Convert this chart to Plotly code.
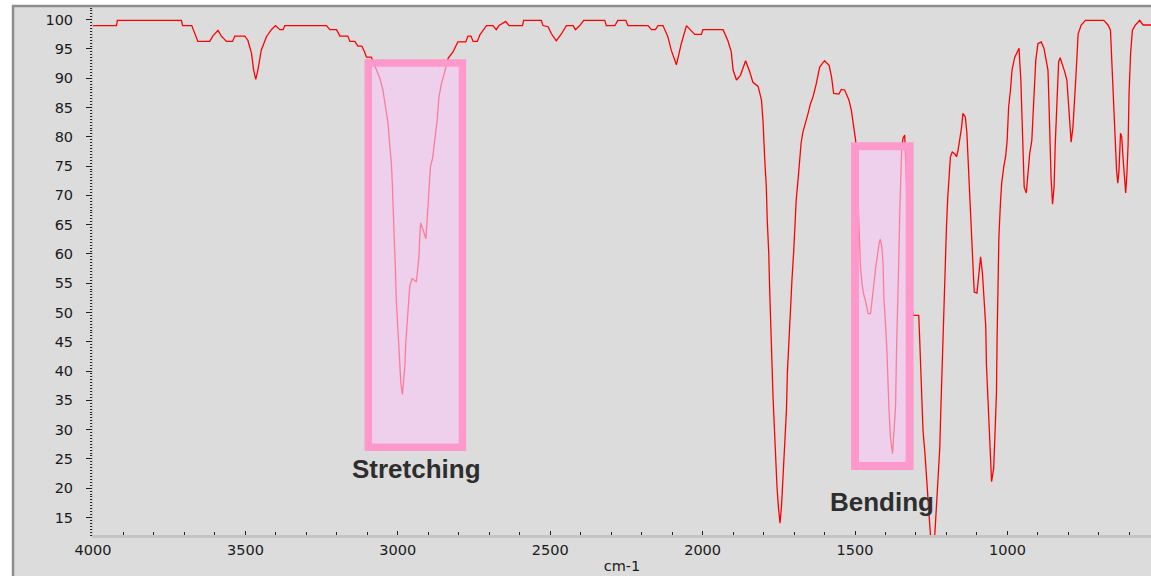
import plotly.graph_objects as go

# IR spectrum (wavenumber cm-1, % transmittance)
wavenumber = [
    4000, 3923, 3920, 3710, 3706, 3676, 3656, 3617, 3607, 3590, 3579, 3562, 3542, 3535, 3502,
    3492, 3480, 3473, 3466, 3459, 3448, 3431, 3415, 3401, 3387, 3376, 3371, 3234, 3223, 3201,
    3190, 3164, 3157, 3141, 3131, 3118, 3109, 3103, 3087, 3076, 3070, 3059, 3049, 3041, 3032,
    3027, 3021, 3018, 3016, 3012, 3008, 3005, 2999, 2994, 2990, 2985, 2981, 2977, 2974, 2969,
    2964, 2961, 2953, 2939, 2934, 2930, 2928, 2925, 2917, 2908, 2904, 2901, 2898, 2893, 2886,
    2879, 2871, 2865, 2857, 2846, 2841, 2835, 2819, 2803, 2777, 2770, 2760, 2753, 2739, 2731,
    2709, 2688, 2677, 2668, 2646, 2635, 2591, 2587, 2529, 2524, 2507, 2496, 2480, 2463, 2447,
    2425, 2417, 2403, 2390, 2321, 2316, 2288, 2278, 2252, 2245, 2179, 2168, 2155, 2146, 2130,
    2114, 2103, 2086, 2070, 2053, 2037, 2026, 2004, 1999, 1933, 1917, 1906, 1900, 1889, 1876,
    1859, 1846, 1835, 1818, 1807, 1802, 1796, 1791, 1788, 1783, 1780, 1777, 1773, 1769, 1764,
    1760, 1756, 1751, 1746, 1741, 1736, 1730, 1725, 1722, 1718, 1714, 1711, 1707, 1701, 1697,
    1693, 1687, 1681, 1677, 1671, 1662, 1654, 1646, 1638, 1627, 1616, 1600, 1585, 1577, 1570,
    1553, 1545, 1534, 1520, 1512, 1504, 1498, 1492, 1487, 1485, 1482, 1477, 1472, 1465, 1457,
    1449, 1443, 1438, 1432, 1427, 1421, 1417, 1412, 1408, 1405, 1400, 1395, 1389, 1384, 1377,
    1372, 1367, 1364, 1359, 1356, 1353, 1350, 1347, 1343, 1337, 1330, 1320, 1310, 1291, 1288,
    1285, 1281, 1277, 1271, 1267, 1263, 1258, 1253, 1248, 1242, 1238, 1233, 1228, 1222, 1219,
    1215, 1211, 1208, 1205, 1200, 1196, 1193, 1187, 1181, 1173, 1167, 1162, 1157, 1151, 1146,
    1138, 1133, 1130, 1126, 1122, 1119, 1113, 1109, 1100, 1097, 1093, 1088, 1082, 1077, 1071,
    1069, 1064, 1060, 1056, 1052, 1045, 1041, 1036, 1034, 1031, 1028, 1023, 1019, 1012, 1006,
    1001, 996, 990, 985, 976, 968, 962, 956, 952, 949, 945, 938, 932, 927, 920,
    916, 911, 907, 900, 889, 880, 872, 867, 864, 861, 857, 852, 847, 843, 839,
    836, 832, 827, 820, 812, 805, 800, 796, 791, 785, 782, 776, 772, 768, 758,
    744, 684, 670, 662, 657, 651, 647, 642, 638, 634, 629, 625, 621, 616, 612,
    608, 604, 601, 596, 590, 580, 566, 555, 529,
]
transmittance = [
    99.0, 99.0, 99.9, 99.9, 99.0, 99.0, 96.3, 96.3, 97.2, 98.2, 97.2, 96.3, 96.3, 97.2, 97.2,
    96.5, 94.3, 91.4, 89.8, 91.4, 94.8, 97.1, 98.3, 99.0, 98.3, 98.3, 99.0, 99.0, 98.3, 98.3,
    97.2, 97.2, 96.3, 96.3, 95.5, 95.5, 94.5, 93.6, 93.6, 92.2, 91.7, 90.0, 88.0, 85.1, 82.3,
    78.9, 75.4, 72.0, 68.0, 62.9, 57.8, 52.1, 46.4, 41.9, 37.9, 36.0, 38.1, 40.7, 44.7, 48.7,
    52.1, 54.4, 55.8, 55.2, 57.8, 60.1, 62.9, 65.3, 64.1, 62.6, 65.5, 68.0, 72.0, 74.9, 76.3,
    79.4, 82.8, 86.8, 89.1, 91.1, 92.2, 93.4, 94.5, 96.2, 96.2, 97.2, 97.2, 96.3, 96.3, 97.4,
    99.0, 99.0, 98.3, 99.0, 99.7, 99.0, 99.0, 99.9, 99.9, 99.0, 98.8, 97.6, 96.4, 97.6, 99.0,
    99.0, 98.3, 99.0, 99.9, 99.9, 99.0, 99.0, 99.9, 99.9, 99.0, 99.0, 98.3, 98.3, 99.0, 99.0,
    97.1, 94.8, 92.3, 95.9, 99.0, 98.0, 97.5, 97.5, 98.3, 98.3, 96.4, 94.5, 91.4, 89.7, 90.5,
    93.0, 91.2, 89.3, 88.6, 86.3, 82.8, 76.0, 71.4, 65.8, 60.1, 53.8, 47.5, 41.3, 35.6, 29.6,
    24.2, 20.2, 16.5, 14.0, 17.1, 21.6, 26.8, 33.3, 39.6, 44.1, 49.2, 53.5, 55.5, 60.6, 65.5,
    69.2, 72.6, 76.0, 78.9, 80.8, 82.3, 84.0, 85.7, 86.8, 89.1, 91.9, 93.0, 92.2, 90.2, 87.4,
    87.3, 88.1, 88.0, 86.3, 84.5, 81.7, 79.4, 72.0, 65.8, 61.2, 57.8, 54.9, 53.2, 51.8, 49.8,
    49.8, 52.1, 54.9, 57.8, 60.1, 61.8, 62.5, 61.2, 58.4, 52.1, 48.1, 43.0, 33.9, 28.8, 25.9,
    29.3, 33.9, 43.0, 51.5, 60.1, 67.5, 73.2, 77.7, 79.7, 80.3, 70.0, 55.0, 49.5, 49.5, 45.6,
    40.7, 35.6, 29.9, 26.2, 22.8, 19.7, 15.1, 12.3, 10.0, 10.0, 12.3, 17.4, 21.4, 26.8, 32.5,
    39.0, 45.6, 52.1, 58.9, 64.6, 69.5, 72.6, 76.6, 77.4, 77.1, 76.6, 77.7, 79.4, 81.4, 84.0,
    83.4, 80.6, 76.9, 72.0, 66.6, 62.9, 58.4, 53.5, 53.3, 55.2, 57.8, 59.5, 56.7, 53.2, 47.5,
    41.3, 35.0, 28.5, 23.9, 21.1, 23.4, 28.5, 36.2, 45.3, 54.9, 62.9, 68.6, 72.0, 74.9, 76.6,
    79.4, 85.1, 88.0, 91.4, 93.6, 94.5, 95.1, 89.7, 84.0, 77.7, 71.4, 70.4, 73.7, 77.1, 79.4,
    84.0, 88.5, 93.1, 95.9, 96.2, 95.1, 93.1, 91.4, 86.3, 78.9, 73.2, 68.5, 71.4, 78.9, 85.1,
    90.2, 92.8, 93.5, 92.5, 91.1, 89.7, 85.1, 81.7, 79.1, 81.7, 85.1, 89.7, 93.6, 97.6, 99.1,
    99.9, 99.9, 99.1, 98.2, 91.9, 86.3, 79.4, 74.3, 72.1, 74.3, 80.6, 80.0, 76.6, 72.0, 70.4,
    73.7, 78.9, 87.4, 94.2, 98.2, 99.1, 99.9, 99.1, 99.1,
]

x_range = [4000, 529]
y_range = [12, 102]
x_ticks = [4000, 3500, 3000, 2500, 2000, 1500, 1000]
y_ticks = [15, 20, 25, 30, 35, 40, 45, 50, 55, 60, 65, 70, 75, 80, 85, 90, 95, 100]

# highlight boxes: (label, wn_left, wn_right, T_bottom, T_top, label_wn, label_T, border width)
box_labels = ["Stretching", "Bending"]
box_x0 = [3097, 1500]
box_x1 = [2788, 1321]
box_y0 = [27.0, 23.8]
box_y1 = [92.6, 78.4]
box_lw = [7.5, 8]
label_x = [2938, 1412]
label_y = [23.3, 17.6]

fig = go.Figure()
fig.add_trace(go.Scatter(
    x=wavenumber, y=transmittance, mode="lines",
    line=dict(color="#ff0000", width=1.3), hoverinfo="skip", showlegend=False,
))

shapes = [
    dict(type="rect", xref="paper", yref="paper",
         x0=-0.0756, x1=1.02, y0=-0.2, y1=1.0038,
         line=dict(color="#8e8e8e", width=2.5), fillcolor="#dcdcdc", layer="below"),
]
for i in range(len(box_labels)):
    shapes.append(dict(type="rect", xref="x", yref="y",
                       x0=box_x0[i], x1=box_x1[i], y0=box_y0[i], y1=box_y1[i],
                       line=dict(width=0), fillcolor="rgba(250,200,245,0.62)", layer="above"))
    shapes.append(dict(type="rect", xref="x", yref="y",
                       x0=box_x0[i], x1=box_x1[i], y0=box_y0[i], y1=box_y1[i],
                       line=dict(color="#ff99cc", width=box_lw[i]), fillcolor="rgba(0,0,0,0)", layer="above"))

annotations = []
for i in range(len(box_labels)):
    annotations.append(dict(x=label_x[i], y=label_y[i], xref="x", yref="y", text=box_labels[i],
                            showarrow=False, xanchor="center", yanchor="middle",
                            font=dict(family="Arial, Liberation Sans, sans-serif", size=26,
                                      color="#2e2e2e", weight="bold")))

tickfont = dict(family="DejaVu Sans, sans-serif", size=14.5, color="#1a1a1a")

fig.update_layout(
    width=1151, height=576,
    margin=dict(l=93, r=0, t=8, b=41, autoexpand=False),
    paper_bgcolor="#ffffff",
    plot_bgcolor="#dcdcdc",
    shapes=shapes,
    annotations=annotations,
    showlegend=False,
)
fig.update_xaxes(
    range=x_range, tickvals=x_ticks, showgrid=False, zeroline=False,
    showline=True, linecolor="#c4c4c4", linewidth=2.5,
    ticks="inside", ticklen=4, tickcolor="#222222", tickwidth=1,
    minor=dict(dtick=100, ticks="inside", ticklen=3, tickcolor="#222222", tickwidth=1, showgrid=False),
    tickfont=tickfont,
    title=dict(text="cm-1", font=dict(family="DejaVu Sans, sans-serif", size=14.5, color="#1a1a1a"), standoff=4),
)
fig.update_yaxes(
    range=y_range, tickvals=y_ticks, showgrid=False, zeroline=False,
    showline=True, linecolor="#c8c8c8", linewidth=1,
    ticks="outside", ticklen=6, tickcolor="#222222", tickwidth=1,
    minor=dict(dtick=0.5, ticks="outside", ticklen=2, tickcolor="#222222", tickwidth=1, showgrid=False),
    tickfont=tickfont, ticklabelstandoff=10,
)

fig.write_html("out.html")
